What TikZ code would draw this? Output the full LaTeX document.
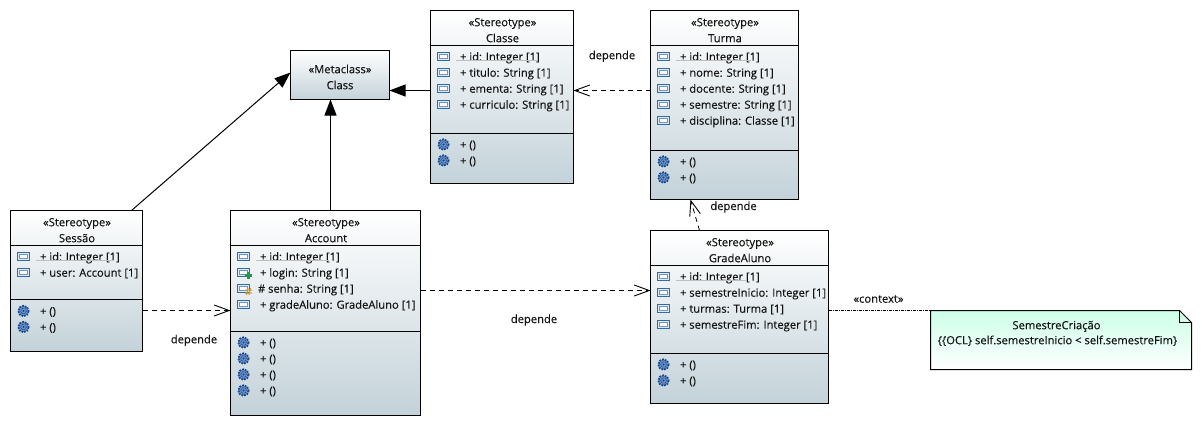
\documentclass[tikz,border=0pt]{standalone}
\usepackage{fontspec}
\setmainfont{Open Sans}[FakeBold=0.3]
\usetikzlibrary{calc,arrows.meta}
\definecolor{iconblue}{HTML}{2F6CA8}
\definecolor{iconfill}{HTML}{DCE9F5}
\definecolor{gearblue}{HTML}{17498F}
\definecolor{gearmid}{HTML}{6E92C8}
\definecolor{boxlow}{HTML}{C3D2D9}
\definecolor{notetop}{HTML}{CCFFE8}
\definecolor{plusgreen}{HTML}{1C9A4A}
\definecolor{hashorange}{HTML}{D9981E}
\newcounter{lbl}
\tikzset{
  x=1pt,y=-1pt,
  every node/.style={inner sep=0pt,outer sep=0pt},
  umlbox/.style={draw=black,line width=1pt,rectangle,anchor=north west,top color=white,bottom color=boxlow},
  divider/.style={draw=black,line width=1pt},
  lbltext/.style={font=\fontsize{11.2}{13}\selectfont,text=black!92,text height=8pt,text depth=3pt,yshift=-1.7pt},
  rowtext/.style={lbltext,anchor=west,xshift=-0.5pt},
  centertext/.style={lbltext,anchor=center},
  inherit/.style={draw=black,line width=1pt,-{Triangle[length=16pt,width=12pt]}},
  depend/.style={draw=black,line width=0.8pt,dash pattern=on 5pt off 4pt,-{Straight Barb[length=15pt,width=11pt,line width=0.9pt]}},
  ctxline/.style={draw=black,line width=0.8pt,dash pattern=on 3pt off 1pt on 1pt off 1pt},
  idline/.style={draw=black!25,line width=0.7pt},
}
\newcommand{\attricon}[2]{%
  \draw[iconblue,line width=0.9pt,fill=iconfill] (#1-6,#2-4) rectangle (#1+6,#2+4);
  \draw[iconblue!70,line width=0.6pt,fill=white] (#1-4,#2-2) rectangle (#1+4,#2+2);
}
\newcommand{\gearicon}[2]{%
  \fill[gearmid] (#1,#2) circle (5);
  \draw[gearblue,line width=1.8pt,dash pattern=on 1.8pt off 1pt] (#1,#2) circle (5.2);
  \draw[gearblue,line width=0.8pt,dash pattern=on 0.8pt off 0.8pt] (#1,#2) circle (2.8);
  \fill[gearblue] (#1,#2) circle (1.1);
}
\newcommand{\plusbadge}[2]{%
  \fill[plusgreen] (#1-3.5,#2-1.2) rectangle (#1+3.5,#2+1.2);
  \fill[plusgreen] (#1-1.2,#2-3.5) rectangle (#1+1.2,#2+3.5);
}
\newcommand{\hashbadge}[2]{%
  \draw[hashorange,line width=1pt] (#1-3.5,#2-1.5) -- (#1+3.5,#2-1.5) (#1-3.5,#2+1.5) -- (#1+3.5,#2+1.5)
    (#1-0.5,#2-3.5) -- (#1-2,#2+3.5) (#1+2,#2-3.5) -- (#1+0.5,#2+3.5);
}
% name x1 y1 x2 y2 div1 div2 stereotype title
\newcommand{\umlclass}[9]{%
  \node[umlbox,minimum width=#4-#2,minimum height=#5-#3] (#1) at (#2,#3) {};
  \draw[divider] (#2,#6) -- (#4,#6);
  \draw[divider] (#2,#7) -- (#4,#7);
  \node[centertext] (#1S) at ({(#2+#4)/2+0.5},#3+11.5) {«#8»};
  \node[centertext] (#1T) at ({(#2+#4)/2+0.5},#3+27.5) {#9};
}
\newcommand{\attr}[4]{% iconx textx y text
  \attricon{#1}{#3}
  \stepcounter{lbl}
  \node[rowtext] (lbl\arabic{lbl}) at (#2,#3) {#4};
}
\newcommand{\oper}[3]{% iconx textx y
  \gearicon{#1}{#3}
  \stepcounter{lbl}
  \node[rowtext] (lbl\arabic{lbl}) at (#2,#3) {+ ()};
}
\begin{document}
\begin{tikzpicture}
\useasboundingbox (-0.5,-0.5) rectangle (1201.5,425.5);

% Metaclass
\node[umlbox,minimum width=99,minimum height=49] (meta) at (290,50) {};
\node[centertext] (metaA) at (339.5,68.5) {«Metaclass»};
\node[centertext] (metaB) at (339.5,84.5) {Class};

% Sessao
\umlclass{sessao}{10}{210}{142}{351}{245}{299}{Stereotype}{Sessão}
\attr{23}{40}{256}{+ id: Integer [1]}
\attr{23}{40}{272}{+ user: Account [1]}
\draw[idline] (35.5,260) -- (113,260);
\oper{23}{40}{310.5}
\oper{23}{40}{326.5}

% Account
\umlclass{account}{230}{210}{420}{415}{245}{331}{Stereotype}{Account}
\attr{243}{260}{256}{+ id: Integer [1]}
\attr{243}{260}{272}{+ login: String [1]}
\plusbadge{248}{275}
\attr{243}{258}{288}{\# senha: String [1]}
\hashbadge{248}{291}
\attr{243}{260}{304}{+ gradeAluno: GradeAluno [1]}
\draw[idline] (255,260) -- (328,260);
\oper{243}{260}{342}
\oper{243}{260}{358}
\oper{243}{260}{374}
\oper{243}{260}{390}

% Classe
\umlclass{classe}{430}{10}{573}{183}{45}{133}{Stereotype}{Classe}
\attr{443}{460}{56}{+ id: Integer [1]}
\attr{443}{460}{72}{+ titulo: String [1]}
\attr{443}{460}{88}{+ ementa: String [1]}
\attr{443}{460}{104}{+ curriculo: String [1]}
\draw[idline] (455,60) -- (537,60);
\oper{443}{460}{144}
\oper{443}{460}{160}

% Turma
\umlclass{turma}{650}{10}{798}{199}{45}{150}{Stereotype}{Turma}
\attr{663}{680}{56}{+ id: Integer [1]}
\attr{663}{680}{72}{+ nome: String [1]}
\attr{663}{680}{88}{+ docente: String [1]}
\attr{663}{680}{104}{+ semestre: String [1]}
\attr{663}{680}{120}{+ disciplina: Classe [1]}
\draw[idline] (675,60) -- (750,60);
\oper{663}{680}{161}
\oper{663}{680}{177}

% GradeAluno
\umlclass{grade}{650}{230}{828}{403}{265}{353}{Stereotype}{GradeAluno}
\attr{663}{680}{276}{+ id: Integer [1]}
\attr{663}{680}{292}{+ semestreInicio: Integer [1]}
\attr{663}{680}{308}{+ turmas: Turma [1]}
\attr{663}{680}{324}{+ semestreFim: Integer [1]}
\draw[idline] (675.5,280) -- (745,280);
\oper{663}{680}{364}
\oper{663}{680}{380}

% Note
\path[draw=black,line width=1pt,top color=notetop,bottom color=white]
  (930,310) -- (1179,310) -- (1191,322) -- (1191,369) -- (930,369) -- cycle;
\draw[black,line width=1pt] (1179,310) -- (1179,322) -- (1191,322);
\node[anchor=north west,minimum width=261,minimum height=59] (note) at (930,310) {};
\node[centertext] (noteA) at (1056,324.5) {SemestreCriação};
\node[centertext] (noteB) at (1057,339.5) {\{\{OCL\} self.semestreInicio < self.semestreFim\}};

% Connectors
\draw[inherit] ($(sessao.north west)+(121,0)$) -- ($(meta.north west)+(0,22)$);
\draw[inherit] ($(account.north west)+(100,0)$) -- ($(meta.south west)+(40,0)$);
\draw[inherit] ($(classe.north west)+(0,80)$) -- ($(meta.north east)+(0,40)$);
\draw[depend] ($(turma.north west)+(0,80)$) -- ($(classe.north east)+(0,80)$);
\draw[depend] ($(grade.north west)+(49,0)$) -- ($(turma.south west)+(40,0)$);
\draw[depend] ($(account.north east)+(0,80)$) -- ($(grade.north west)+(0,60)$);
\draw[depend] ($(sessao.north east)+(0,100)$) -- ($(account.north west)+(0,100)$);
\draw[ctxline] ($(grade.north east)+(0,80)$) -- (note.north west);

% Labels
\node[centertext] (dep1) at (611.5,54.5) {depende};
\node[centertext] (dep2) at (733,205.3) {depende};
\node[centertext] (dep3) at (533.5,318.3) {depende};
\node[centertext] (dep4) at (193.5,338.6) {depende};
\node[centertext] (ctx) at (878,298) {«context»};
\end{tikzpicture}
\end{document}
